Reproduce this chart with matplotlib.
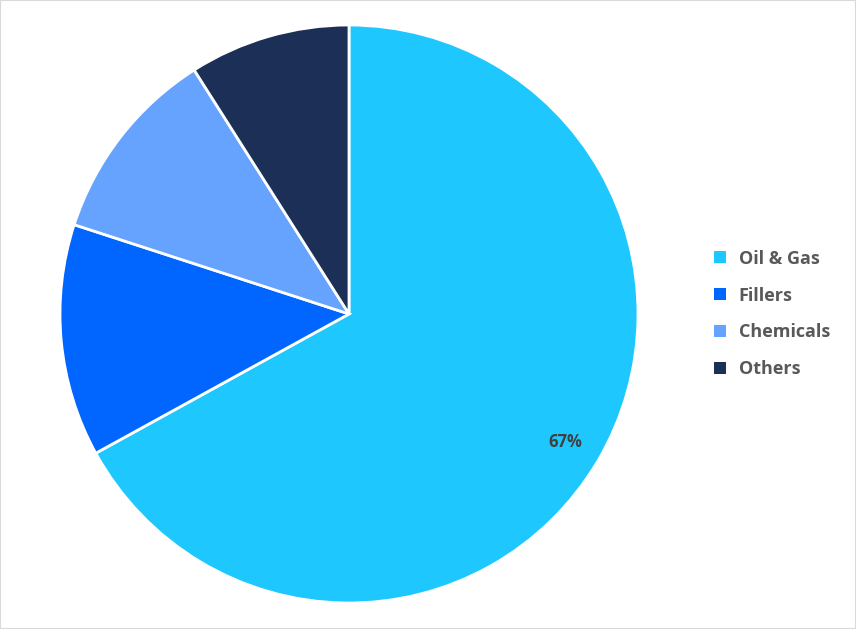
import numpy as np
import matplotlib.pyplot as plt
from matplotlib.patches import Patch, Rectangle

labels = ["Oil & Gas", "Fillers", "Chemicals", "Others"]
values = [67, 13, 11, 9]
colors = ["#1ec8ff", "#0066ff", "#66a3ff", "#1c2f57"]
shown = ["67%", "", "", ""]

W, H = 856, 629
fig = plt.figure(figsize=(W / 100, H / 100), dpi=100)
fig.patches.append(Rectangle((0, 0), 1, 1, transform=fig.transFigure, fill=False,
                             edgecolor="#d9d9d9", linewidth=1.5))

cx, cy, r = 349, 314, 289
ax = fig.add_axes([(cx - r) / W, (H - cy - r) / H, 2 * r / W, 2 * r / H])
wedges, _ = ax.pie(values, colors=colors, startangle=90, counterclock=False,
                   wedgeprops=dict(edgecolor="white", linewidth=2))
ax.set_aspect("auto")
ax.set_xlim(-1, 1)
ax.set_ylim(-1, 1)

# only the big slice gets a label
w = wedges[0]
mid = np.deg2rad((w.theta1 + w.theta2) / 2)
ax.text(0.87 * np.cos(mid), 0.87 * np.sin(mid), shown[0], ha="center", va="center",
        fontsize=12, fontweight="bold", color="#404040", family="Open Sans")

handles = [Patch(facecolor=c, label=l) for c, l in zip(colors, labels)]
fig.legend(handles=handles, loc="center left", bbox_to_anchor=(698 / W, 1 - 314 / H),
           frameon=False, handlelength=0.65, handleheight=0.65, labelspacing=1.05,
           handletextpad=0.7, prop=dict(family="Open Sans", weight="bold", size=13),
           labelcolor="#595959")

fig.savefig("out.png", dpi=100)
